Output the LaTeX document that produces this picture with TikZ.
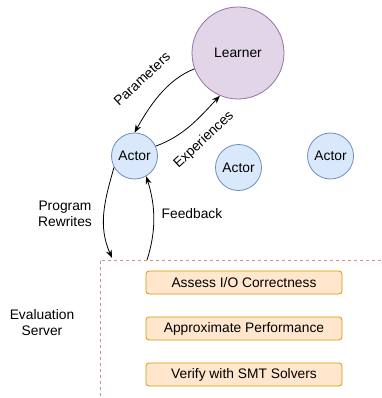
\documentclass[tikz,border=0pt]{standalone}
\usepackage{fontspec}
\setmainfont{Liberation Sans}
\usetikzlibrary{arrows.meta}
\definecolor{lfill}{HTML}{E1D5E7}
\definecolor{ldraw}{HTML}{9673A6}
\definecolor{afill}{HTML}{DAE8FC}
\definecolor{adraw}{HTML}{6C8EBF}
\definecolor{bfill}{HTML}{FFE6CC}
\definecolor{bdraw}{HTML}{D79B00}
\definecolor{sdraw}{HTML}{D09090}
\begin{document}
\begin{tikzpicture}[x=1pt,y=-1pt,
  font=\fontsize{13.8pt}{16pt}\selectfont,
  learner/.style={circle,draw=ldraw,fill=lfill,minimum size=92pt,inner sep=0pt,line width=0.8pt},
  actor/.style={circle,draw=adraw,fill=afill,minimum size=46pt,inner sep=0pt,line width=0.8pt},
  task/.style={rectangle,rounded corners=3pt,draw=bdraw,fill=bfill,minimum width=196pt,minimum height=23pt,inner sep=0pt,line width=0.8pt},
  conn/.style={draw=black,line width=0.8pt,-{Stealth[length=8pt,width=6pt]}},
  lbl/.style={align=center,inner sep=1pt}]
\useasboundingbox (0,0) rectangle (381,398);
\fill[white] (0,0) rectangle (381,398);
\node[learner] (L) at (238,53) {Learner};
\node[actor] (A1) at (134.5,156) {Actor};
\node[actor] (A2) at (238.5,167.5) {Actor};
\node[actor] (A3) at (330.5,156) {Actor};
\draw[sdraw,line width=1pt,dash pattern=on 3pt off 3pt] (381,260) -- (100,260) -- (100,398);
\node[task] (T1) at (244,282.5) {Assess I/O Correctness};
\node[task] (T2) at (244,328.5) {Approximate Performance};
\node[task] (T3) at (244,374.5) {Verify with SMT Solvers};
\coordinate (PR) at (112,258);
\coordinate (FB) at (147,260);
\draw[conn] (L.200) .. controls (166,80) and (149,107) .. (A1.north);
\draw[conn] (A1.25) .. controls (184,136) and (200,117) .. (L.247);
\draw[conn] (A1.209) .. controls (104,202) and (98,226) .. (PR);
\draw[conn] (FB) .. controls (156,232) and (156,207) .. (A1.-60);
\node[lbl,rotate=43] (pl) at (142,79) {Parameters};
\node[lbl,rotate=43] (el) at (204,140) {Experiences};
\node[lbl] (prl) at (65,214) {Program\\Rewrites};
\node[lbl] (fbl) at (192,214) {Feedback};
\node[lbl] (esl) at (42,323) {Evaluation\\Server};
\end{tikzpicture}
\end{document}
